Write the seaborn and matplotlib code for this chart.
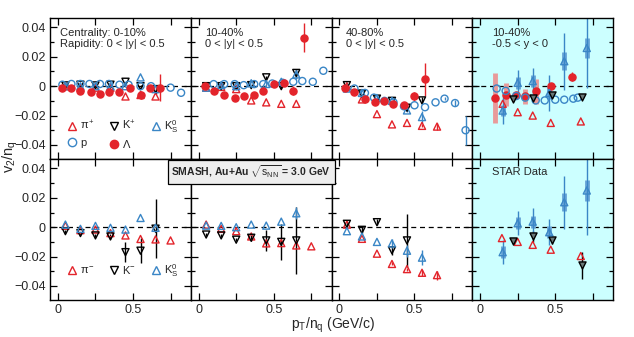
import matplotlib
matplotlib.use("Agg")
import matplotlib.pyplot as plt
from matplotlib.lines import Line2D
from matplotlib.ticker import MultipleLocator, FixedLocator, FuncFormatter
import seaborn as sns

# ---- data: v2/nq vs pT/nq ----
pt7 = [0.05, 0.15, 0.25, 0.35, 0.45, 0.55, 0.65]
pt8 = [0.05, 0.15, 0.25, 0.35, 0.45, 0.55, 0.65, 0.75]
pt6 = [0.05, 0.15, 0.25, 0.35, 0.45, 0.55]
pt5 = [0.05, 0.15, 0.25, 0.35, 0.45]

# top row, 0-10%
pip_010 = [0.0, -0.001, -0.001, -0.001, -0.007, -0.006, -0.007]
kp_010 = [0.0005, 0.001, 0.0005, 0.001, 0.003, 0.0, -0.002]
kp_010_err = [0, 0, 0, 0, 0, 0.001, 0.003]
k0_010 = [0.0, 0.0, 0.0, 0.0, 0.0, 0.006, -0.002]
p_010_pt = [0.03, 0.09, 0.15, 0.21, 0.28, 0.34, 0.41, 0.47, 0.55, 0.62, 0.75, 0.82]
p_010 = [0.001, 0.0015, 0.0015, 0.0015, 0.0015, 0.0015, 0.001, 0.001, 0.0, 0.0, -0.001, -0.0045]
lam_010_pt = [0.03, 0.09, 0.15, 0.22, 0.28, 0.34, 0.41, 0.48, 0.55, 0.61, 0.68]
lam_010 = [-0.0015, -0.0015, -0.003, -0.004, -0.005, -0.004, -0.004, -0.001, -0.006, -0.001, -0.001]
lam_010_err = [0, 0, 0, 0, 0, 0, 0, 0.001, 0.003, 0.002, 0.009]

# top row, 10-40%
pip_1040 = [-0.001, -0.0005, -0.002, -0.0097, -0.011, -0.012, -0.012]
kp_1040 = [0.0, 0.0, 0.0, 0.0007, 0.006, 0.0, 0.009]
kp_1040_err = [0, 0, 0, 0, 0.001, 0.001, 0.003]
k0_1040 = [-0.001, 0.0007, 0.0, 0.002, 0.0015, 0.003, 0.008]
k0_1040_err = [0, 0, 0, 0, 0, 0.001, 0.003]
p_1040_pt = [0.10, 0.17, 0.24, 0.30, 0.37, 0.43, 0.49, 0.56, 0.63, 0.69, 0.76, 0.83]
p_1040 = [0.0014, 0.0014, 0.0014, 0.0007, 0.0014, 0.0014, 0.0018, 0.0023, 0.003, 0.0035, 0.003, 0.0105]
lam_1040_pt = [0.04, 0.105, 0.17, 0.24, 0.30, 0.37, 0.43, 0.50, 0.57, 0.63, 0.70]
lam_1040 = [0.0, -0.003, -0.006, -0.008, -0.007, -0.006, -0.003, 0.0015, 0.002, -0.003, 0.033]
lam_1040_err = [0, 0, 0, 0, 0, 0.001, 0.001, 0.001, 0.001, 0.003, 0.010]

# top row, 40-80%
pip_4080 = [0.0, -0.009, -0.019, -0.026, -0.025, -0.027, -0.0275]
pip_4080_err = [0, 0, 0, 0, 0, 0.001, 0.0025]
kp_4080 = [0.0007, -0.005, -0.0085, -0.010, -0.0147, -0.0097]
kp_4080_err = [0.001, 0, 0, 0, 0.001, 0.002]
k0_4080 = [-0.0016, -0.0046, -0.008, -0.010, -0.0165, -0.021]
k0_4080_err = [0, 0, 0, 0, 0.001, 0.004]
p_4080_pt = [0.10, 0.17, 0.23, 0.30, 0.36, 0.43, 0.50, 0.57, 0.64, 0.70, 0.77, 0.84]
p_4080 = [-0.0016, -0.0046, -0.0078, -0.010, -0.011, -0.0137, -0.013, -0.0143, -0.011, -0.0085, -0.0115, -0.030]
p_4080_err = [0, 0, 0, 0, 0, 0, 0, 0, 0, 0.001, 0.002, 0.010]
lam_4080_pt = [0.036, 0.10, 0.17, 0.235, 0.30, 0.36, 0.43, 0.50, 0.57]
lam_4080 = [-0.001, -0.004, -0.0085, -0.011, -0.010, -0.012, -0.013, -0.007, 0.0046]
lam_4080_err = [0, 0, 0, 0, 0, 0, 0.001, 0.003, 0.011]

# top row, STAR 10-40%, -0.5<y<0
lam_star_pt = [0.10, 0.17, 0.24, 0.30, 0.37, 0.47, 0.61]
lam_star = [-0.008, -0.0058, -0.0058, -0.007, -0.0035, 0.0002, 0.0064]
lam_star_err = [0.001, 0.001, 0.001, 0.001, 0.001, 0.001, 0.003]
lam_star_sys = [0.017, 0.008, 0.0, 0.005, 0.0086, 0.0, 0.0]
pip_star_pt = [0.15, 0.25, 0.35, 0.47, 0.67]
pip_star = [-0.012, -0.0177, -0.020, -0.025, -0.024]
kp_star_pt = [0.22, 0.35, 0.48, 0.68]
kp_star = [-0.009, -0.008, -0.0058, -0.0074]
kp_star_err = [0.001, 0.001, 0.002, 0.001]
k0_star_pt = [0.15, 0.25, 0.35, 0.46, 0.56, 0.71]
k0_star = [-0.0166, 0.0023, 0.0035, -0.0046, 0.017, 0.026]
k0_star_err = [0.009, 0.009, 0.009, 0.012, 0.0195, 0.027]
k0_star_sys = [0.004, 0.004, 0.004, 0.004, 0.006, 0.007]
p_star_pt = [0.11, 0.17, 0.24, 0.30, 0.37, 0.43, 0.50, 0.56, 0.62, 0.65]
p_star = [-0.0016, -0.0032, -0.0067, -0.0078, -0.0097, -0.0097, -0.0092, -0.0092, -0.0085, -0.0078]

# bottom row, 0-10%
pim_010 = [0.001, -0.002, -0.0016, -0.004, -0.0056, -0.008, -0.0083, -0.009]
km_010 = [-0.0027, -0.004, -0.0056, -0.0063, -0.017, -0.016, -0.001]
km_010_err = [0.001, 0.001, 0.001, 0.002, 0.0068, 0.0084, 0.020]
k0m_010 = [0.0018, -0.0011, 0.0009, -0.0004, -0.0016, 0.0063, -0.0004]

# bottom row, 10-40%
pim_1040 = [0.0018, -0.0011, -0.0027, -0.0063, -0.011, -0.0108, -0.0124, -0.013]
km_1040 = [-0.005, -0.0056, -0.0085, -0.0072, -0.009, -0.010, -0.009]
km_1040_err = [0.001, 0.001, 0.001, 0.002, 0.007, 0.012, 0.023]
k0m_1040 = [0.0011, 0.0009, 0.0, 0.0018, 0.0011, 0.0038, 0.0095]
k0m_1040_err = [0, 0, 0, 0, 0, 0, 0.004]

# bottom row, 40-80%
pim_4080 = [0.0018, -0.0079, -0.018, -0.025, -0.0285, -0.031, -0.0326]
pim_4080_err = [0, 0, 0, 0.001, 0.001, 0.002, 0.003]
km_4080 = [0.0023, -0.0018, 0.0034, -0.0157, -0.009]
km_4080_err = [0.002, 0.002, 0.002, 0.003, 0.018]
k0m_4080 = [-0.0027, -0.0063, -0.010, -0.011, -0.016, -0.0207]
k0m_4080_err = [0, 0, 0, 0.003, 0.004, 0.005]

# bottom row, STAR
pim_star_pt = [0.145, 0.25, 0.35, 0.47, 0.67]
pim_star = [-0.0074, -0.010, -0.012, -0.0153, -0.0196]
km_star_pt = [0.22, 0.35, 0.48, 0.68]
km_star = [-0.0095, -0.0063, -0.0085, -0.026]
km_star_err = [0.001, 0.004, 0.003, 0.009]
k0m_star_pt = [0.15, 0.25, 0.35, 0.46, 0.56, 0.71]
k0m_star = [-0.017, 0.0027, 0.0038, -0.0034, 0.017, 0.025]
k0m_star_err = [0.008, 0.008, 0.009, 0.009, 0.018, 0.030]
k0m_star_sys = [0.004, 0.004, 0.004, 0.004, 0.006, 0.007]

RED = "#e3242b"
BLUE = "#3a86c6"
BLACK = "black"
GREY = "#6a7a7a"
CYAN = "#ccffff"

sns.set_style("ticks")
plt.rcParams["font.family"] = ["Liberation Sans", "DejaVu Sans"]
plt.rcParams["mathtext.fontset"] = "custom"
plt.rcParams["mathtext.rm"] = "Liberation Sans"
plt.rcParams["mathtext.it"] = "Liberation Sans"
plt.rcParams["mathtext.bf"] = "Liberation Sans:bold"


def draw(ax, x, y, marker, color, err=None, sys_err=None, sys_color=None,
         fill="none", s=26):
    if sys_err is not None:
        ax.errorbar(x, y, yerr=sys_err, fmt="none", ecolor=sys_color,
                    elinewidth=3.5, capsize=0, zorder=2)
    if err is not None:
        ax.errorbar(x, y, yerr=err, fmt="none", ecolor=color,
                    elinewidth=1, capsize=0, zorder=2.5)
    sns.scatterplot(x=x, y=y, ax=ax, marker=marker, s=s, color=color,
                    facecolor=fill, edgecolor=color, linewidth=1,
                    zorder=3, legend=False)


fig = plt.figure(figsize=(6.34, 3.37), dpi=100)
axes = fig.subplots(2, 4, sharex=True, sharey=True,
                    gridspec_kw=dict(hspace=0, wspace=0, left=0.079,
                                     right=0.967, top=0.947, bottom=0.11))

# top row
ax = axes[0, 0]
draw(ax, pt7, pip_010, "^", RED)
draw(ax, pt7, kp_010, "v", BLACK, err=kp_010_err)
draw(ax, pt7, k0_010, "^", BLUE)
draw(ax, p_010_pt, p_010, "o", BLUE)
draw(ax, lam_010_pt, lam_010, "o", RED, err=lam_010_err, fill=RED)

ax = axes[0, 1]
draw(ax, pt7, pip_1040, "^", RED)
draw(ax, pt7, kp_1040, "v", BLACK, err=kp_1040_err)
draw(ax, pt7, k0_1040, "^", BLUE, err=k0_1040_err)
draw(ax, p_1040_pt, p_1040, "o", BLUE)
draw(ax, lam_1040_pt, lam_1040, "o", RED, err=lam_1040_err, fill=RED)

ax = axes[0, 2]
draw(ax, pt7, pip_4080, "^", RED, err=pip_4080_err)
draw(ax, pt6, kp_4080, "v", BLACK, err=kp_4080_err)
draw(ax, pt6, k0_4080, "^", BLUE, err=k0_4080_err)
draw(ax, p_4080_pt, p_4080, "o", BLUE, err=p_4080_err)
draw(ax, lam_4080_pt, lam_4080, "o", RED, err=lam_4080_err, fill=RED)

ax = axes[0, 3]
draw(ax, lam_star_pt, lam_star, "o", RED, err=lam_star_err,
     sys_err=lam_star_sys, sys_color="#e89a9a", fill=RED)
draw(ax, pip_star_pt, pip_star, "^", RED)
draw(ax, k0_star_pt, k0_star, "^", BLUE, err=k0_star_err,
     sys_err=k0_star_sys, sys_color="#6aa6d8")
draw(ax, p_star_pt, p_star, "o", BLUE)
draw(ax, kp_star_pt, kp_star, "v", BLACK, err=kp_star_err, fill=GREY)

# bottom row
ax = axes[1, 0]
draw(ax, pt8, pim_010, "^", RED)
draw(ax, pt7, km_010, "v", BLACK, err=km_010_err)
draw(ax, pt7, k0m_010, "^", BLUE)

ax = axes[1, 1]
draw(ax, pt8, pim_1040, "^", RED)
draw(ax, pt7, km_1040, "v", BLACK, err=km_1040_err)
draw(ax, pt7, k0m_1040, "^", BLUE, err=k0m_1040_err)

ax = axes[1, 2]
draw(ax, pt7, pim_4080, "^", RED, err=pim_4080_err)
draw(ax, pt5, km_4080, "v", BLACK, err=km_4080_err)
draw(ax, pt6, k0m_4080, "^", BLUE, err=k0m_4080_err)

ax = axes[1, 3]
draw(ax, pim_star_pt, pim_star, "^", RED)
draw(ax, km_star_pt, km_star, "v", BLACK, err=km_star_err, fill=GREY)
draw(ax, k0m_star_pt, k0m_star, "^", BLUE, err=k0m_star_err,
     sys_err=k0m_star_sys, sys_color="#6aa6d8")


def yfmt(v, pos):
    if abs(v) < 1e-9:
        return "0"
    return f"{v:.2f}".replace("-", "\u2212")


for ax in axes.flat:
    ax.axhline(0, color="black", ls=(0, (4, 3)), lw=0.9, zorder=1)
    ax.set_xlim(-0.052, 0.885)
    ax.set_ylim(-0.0495, 0.0465)
    ax.xaxis.set_major_locator(FixedLocator([0, 0.25, 0.5, 0.75]))
    ax.xaxis.set_major_formatter(FuncFormatter(
        lambda v, p: {0: "0", 2: "0.5"}.get(p, "")))
    ax.yaxis.set_major_locator(MultipleLocator(0.02))
    ax.yaxis.set_minor_locator(MultipleLocator(0.01))
    ax.yaxis.set_major_formatter(FuncFormatter(yfmt))
    ax.tick_params(which="both", direction="in", top=True, right=True,
                   labelsize=9, width=0.9, color="black", pad=3)
    ax.tick_params(which="major", length=5)
    ax.tick_params(which="minor", length=3)
    for sp in ax.spines.values():
        sp.set_linewidth(1.0)
        sp.set_color("black")
    ax.set_xlabel("")
    ax.set_ylabel("")

for ax in axes[:, 3]:
    ax.set_facecolor(CYAN)

# panel labels
axes[0, 0].text(0.07, 0.93, "Centrality: 0-10%\nRapidity: 0 < |y| < 0.5",
                transform=axes[0, 0].transAxes, fontsize=8, va="top")
axes[0, 1].text(0.10, 0.93, "10-40%\n0 < |y| < 0.5",
                transform=axes[0, 1].transAxes, fontsize=8, va="top")
axes[0, 2].text(0.10, 0.93, "40-80%\n0 < |y| < 0.5",
                transform=axes[0, 2].transAxes, fontsize=8, va="top")
axes[0, 3].text(0.14, 0.93, "10-40%\n-0.5 < y < 0",
                transform=axes[0, 3].transAxes, fontsize=8, va="top")
axes[1, 3].text(0.14, 0.94, "STAR Data",
                transform=axes[1, 3].transAxes, fontsize=8, va="top")


def mk(marker, color, fill="none"):
    return Line2D([], [], ls="none", marker=marker, ms=6, mfc=fill,
                  mec=color, mew=1)


h_top = [mk("^", RED), mk("o", BLUE), mk("v", BLACK), mk("o", RED, RED),
         mk("^", BLUE)]
l_top = [r"$\pi^{+}$", "p", r"K$^{+}$", r"$\Lambda$", r"K$_{S}^{0}$"]
axes[0, 0].legend(h_top, l_top, ncol=3, loc="lower left",
                  bbox_to_anchor=(0.04, -0.01), frameon=False, fontsize=8,
                  handletextpad=0.1, columnspacing=1.2, handlelength=1.2,
                  labelspacing=0.55)
h_bot = [mk("^", RED), mk("v", BLACK), mk("^", BLUE)]
l_bot = [r"$\pi^{-}$", r"K$^{-}$", r"K$_{S}^{0}$"]
axes[1, 0].legend(h_bot, l_bot, ncol=3, loc="lower left",
                  bbox_to_anchor=(0.04, 0.08), frameon=False, fontsize=8,
                  handletextpad=0.1, columnspacing=1.2, handlelength=1.2)

fig.text(0.396, 0.49, r"SMASH, Au+Au $\sqrt{s_{NN}}$ = 3.0 GeV",
         ha="center", va="center", fontsize=7.5, fontweight="bold",
         bbox=dict(boxstyle="square,pad=0.35", fc="#eeeeee", ec="black",
                   lw=0.9), zorder=10)

fig.text(0.016, 0.535, r"v$_{2}$/n$_{q}$", rotation=90, ha="center",
         va="center", fontsize=10.5)
fig.text(0.525, 0.035, r"p$_{T}$/n$_{q}$ (GeV/c)", ha="center",
         va="center", fontsize=10)

fig.savefig("out.png", dpi=100)
